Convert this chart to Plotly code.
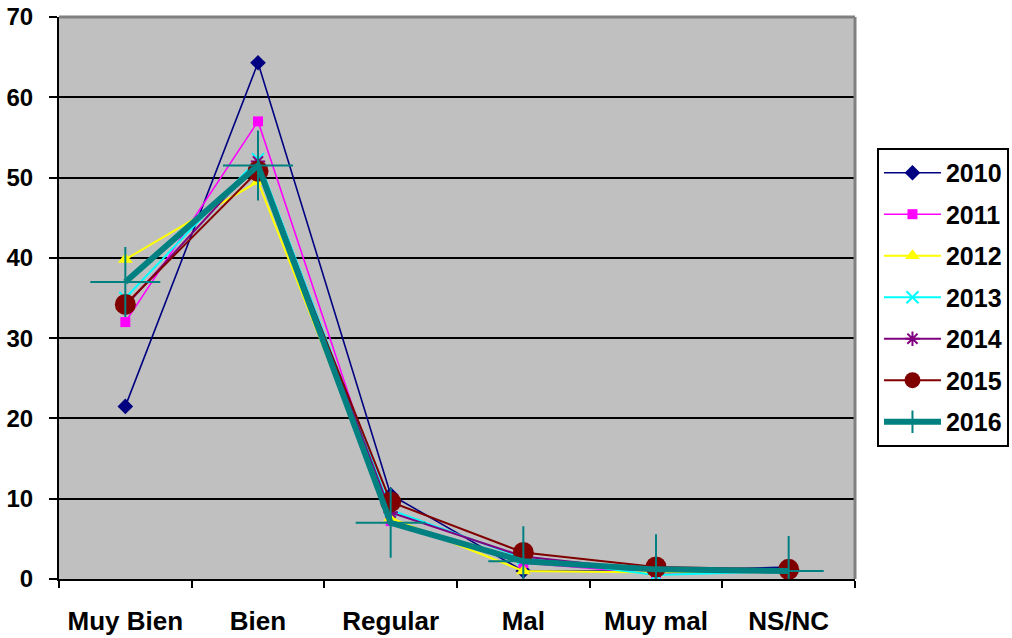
import plotly.graph_objects as go

categories = ["Muy Bien", "Bien", "Regular", "Mal", "Muy mal", "NS/NC"]
years = ["2010", "2011", "2012", "2013", "2014", "2015", "2016"]

v2010 = [21.5, 64.3, 10.5, 1.0, 1.0, 1.5]
v2011 = [32.0, 57.0, 7.2, 2.0, 0.7, 1.0]
v2012 = [39.8, 49.5, 7.6, 1.0, 0.8, 1.0]
v2013 = [35.0, 52.3, 8.6, 2.6, 0.5, 1.0]
v2014 = [34.0, 52.0, 8.3, 2.8, 1.0, 1.0]
v2015 = [34.2, 50.8, 9.6, 3.3, 1.5, 1.2]
v2016 = [37.0, 51.5, 7.0, 2.2, 1.2, 1.0]

series = [v2010, v2011, v2012, v2013, v2014, v2015, v2016]
styles = [
    dict(color="#000080", width=1.6, symbol="diamond", size=12, mline=0),
    dict(color="#FF00FF", width=1.6, symbol="square", size=10, mline=0),
    dict(color="#FFFF00", width=2, symbol="triangle-up", size=13, mline=0),
    dict(color="#00FFFF", width=2, symbol="x-thin-open", size=12, mline=2),
    dict(color="#800080", width=2, symbol="asterisk-open", size=12, mline=2),
    dict(color="#800000", width=2, symbol="circle", size=21, mline=0),
    dict(color="#008080", width=6, symbol="cross-thin-open", size=50, mline=2),
]

fig = go.Figure()
for name, vals, st in zip(years, series, styles):
    fig.add_trace(go.Scatter(
        x=categories, y=vals, name=name, mode="lines+markers",
        legendgroup=name,
        line=dict(color=st["color"], width=st["width"]),
        marker=dict(symbol=st["symbol"], size=st["size"], color=st["color"],
                    line=dict(color=st["color"], width=st["mline"])),
    ))

fam = "Liberation Sans, Arial, sans-serif"
xfont = dict(family=fam, size=26, color="black", weight="bold")
yfont = dict(family=fam, size=24, color="black", weight="bold")
lfont = dict(family=fam, size=25, color="black", weight="bold")

fig.update_layout(
    width=1012, height=638,
    margin=dict(l=59, r=157, t=17, b=59, autoexpand=False),
    paper_bgcolor="white", plot_bgcolor="#C0C0C0",
    font=yfont,
    showlegend=True,
    legend=dict(x=1.0276, y=0.767, xanchor="left", yanchor="top",
                bgcolor="white", bordercolor="black", borderwidth=2,
                font=lfont, tracegroupgap=6, itemwidth=57),
    xaxis=dict(type="category", range=[-0.5, 5.5], showgrid=False, automargin=False,
               showline=True, linecolor="black", linewidth=2,
               ticks="outside", tickson="boundaries", ticklen=7, tickwidth=2,
               tickcolor="black", tickfont=xfont, ticklabelstandoff=18,
               fixedrange=True),
    yaxis=dict(range=[0, 70], dtick=10, showgrid=True, gridcolor="black", gridwidth=2,
               automargin=False, ticklabeloverflow="allow",
               showline=True, linecolor="black", linewidth=2, zeroline=False,
               ticks="outside", ticklen=8, tickwidth=2, tickcolor="black",
               tickfont=yfont, ticklabelstandoff=11, fixedrange=True),
    shapes=[
        dict(type="line", xref="paper", yref="paper", x0=0, x1=1, y0=1, y1=1,
             line=dict(color="#808080", width=3), layer="above"),
        dict(type="line", xref="paper", yref="paper", x0=1, x1=1, y0=0, y1=1,
             line=dict(color="#808080", width=3), layer="above"),
    ],
)

fig.write_html("out.html", config={"displayModeBar": False},
               post_script="document.body.style.margin='0';")
